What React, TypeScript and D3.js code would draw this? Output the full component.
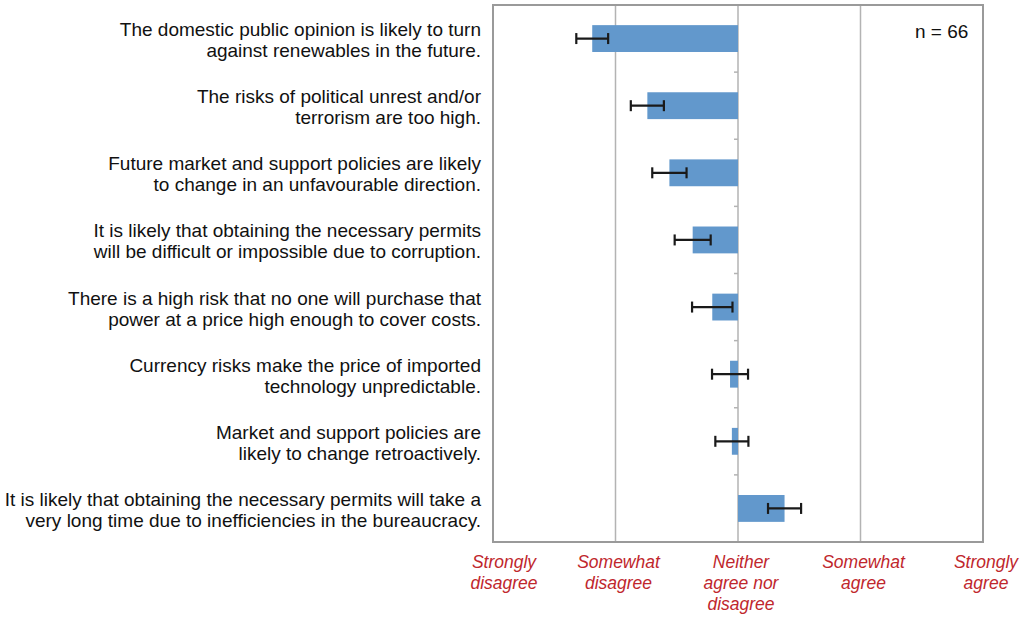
import React from "react";
import * as d3 from "d3";

const statements: string[][] = [
  ["The domestic public opinion is likely to turn", "against renewables in the future."],
  ["The risks of political unrest and/or", "terrorism are too high."],
  ["Future market and support policies are likely", "to change in an unfavourable direction."],
  ["It is likely that obtaining the necessary permits", "will be difficult or impossible due to corruption."],
  ["There is a high risk that no one will purchase that", "power at a price high enough to cover costs."],
  ["Currency risks make the price of imported", "technology unpredictable."],
  ["Market and support policies are", "likely to change retroactively."],
  ["It is likely that obtaining the necessary permits will take a", "very long time due to inefficiencies in the bureaucracy."],
];
const means: number[] = [-1.19, -0.74, -0.56, -0.37, -0.21, -0.065, -0.05, 0.38];
const errors: number[] = [0.13, 0.135, 0.14, 0.147, 0.165, 0.147, 0.135, 0.135];
const scaleValues: number[] = [-2, -1, 0, 1, 2];
const scaleLabels: string[][] = [
  ["Strongly", "disagree"],
  ["Somewhat", "disagree"],
  ["Neither", "agree nor", "disagree"],
  ["Somewhat", "agree"],
  ["Strongly", "agree"],
];
const sampleNote = "n = 66";

const W = 1024;
const H = 620;
const left = 493;
const right = 983;
const top = 5;
const bottom = 542;

export default function App() {
  const x = d3.scaleLinear().domain([-2, 2]).range([left, right]);
  const idx = statements.map((_, i) => i);
  const y = d3.scaleBand<number>().domain(idx).range([top, bottom]).paddingInner(0.6).paddingOuter(0.3);
  const font = "'Liberation Sans', Arial, Helvetica, sans-serif";
  const barColor = "#6298cc";
  const red = "#c0272d";
  const gridColor = "#b3b3b3";

  return (
    <svg width={W} height={H} style={{ position: "absolute", left: 0, top: 0, background: "#fff" }} fontFamily={font}>
      <rect x={0} y={0} width={W} height={H} fill="#fff" />
      {scaleValues.slice(1, -1).map((v) => (
        <line key={"g" + v} x1={x(v)} x2={x(v)} y1={top} y2={bottom} stroke={gridColor} strokeWidth={1.5} />
      ))}
      {d3.range(statements.length + 1).map((k) => {
        const yy = top + (bottom - top) * (k / statements.length);
        return <line key={"t" + k} x1={x(0) - 4} x2={x(0)} y1={yy} y2={yy} stroke={gridColor} strokeWidth={1.5} />;
      })}
      {means.map((m, i) => (
        <rect key={"b" + i} x={Math.min(x(0), x(m))} y={y(i)!} width={Math.abs(x(m) - x(0))} height={y.bandwidth()} fill={barColor} />
      ))}
      {means.map((m, i) => {
        const cy = y(i)! + y.bandwidth() / 2;
        const x1 = x(m - errors[i]);
        const x2 = x(m + errors[i]);
        return (
          <g key={"e" + i} stroke="#1a1a1a" strokeWidth={2.2}>
            <line x1={x1} x2={x2} y1={cy} y2={cy} />
            <line x1={x1} x2={x1} y1={cy - 5.5} y2={cy + 5.5} />
            <line x1={x2} x2={x2} y1={cy - 5.5} y2={cy + 5.5} />
          </g>
        );
      })}
      <rect x={left} y={top} width={right - left} height={bottom - top} fill="none" stroke="#9a9a9a" strokeWidth={2} />
      <text x={x(1.88)} y={38} textAnchor="end" fontSize={19} fill="#111">{sampleNote}</text>
      {statements.map((lines, i) => {
        const cy = y(i)! + y.bandwidth() / 2;
        return (
          <text key={"l" + i} x={481} textAnchor="end" fontSize={19} fill="#111">
            {lines.map((ln, j) => (
              <tspan key={j} x={481} y={cy - 2.5 + j * 21}>{ln}</tspan>
            ))}
          </text>
        );
      })}
      {scaleValues.map((v, i) => {
        const lx = x(v) + (i === 0 ? 11 : 3);
        return (
          <text key={"s" + v} x={lx} textAnchor="middle" fontSize={17.5} fontStyle="italic" fill={red}>
            {scaleLabels[i].map((ln, j) => (
              <tspan key={j} x={lx} y={568 + j * 21}>{ln}</tspan>
            ))}
          </text>
        );
      })}
    </svg>
  );
}
